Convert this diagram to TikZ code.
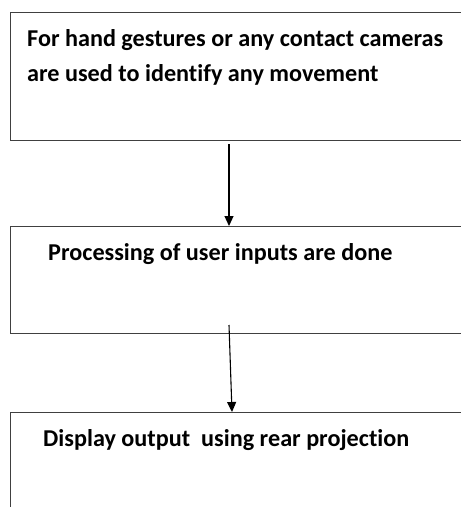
\documentclass[tikz,border=0pt]{standalone}
\usepackage{fontspec}
\setmainfont[Ligatures=NoCommon]{Carlito}
\usetikzlibrary{arrows.meta}
\begin{document}
\begin{tikzpicture}[x=1pt,y=-1pt,
  stage/.style={draw=black!75,line width=0.9pt,anchor=north west,inner sep=0pt},
  label/.style={anchor=base west,inner sep=0pt,font=\fontsize{24.2}{28}\selectfont\bfseries},
  flow/.style={draw=black,line width=1.1pt,-{Triangle[length=10pt,width=9pt]}}]
\useasboundingbox (0,0) rectangle (461,507);
% process boxes (they run past the right and bottom edges)
\node[stage,minimum width=470pt,minimum height=128pt] (b1) at (10,12) {};
\node[stage,minimum width=470pt,minimum height=107pt] (b2) at (10,226) {};
\node[stage,minimum width=470pt,minimum height=120pt] (b3) at (10,412) {};
% box captions
\node[label] (t1a) at (27,46) {For hand gestures or any contact cameras};
\node[label] (t1b) at (27,81) {are used to identify any movement};
\node[label] (t2) at (48,260) {Processing of user inputs are done};
\node[label] (t3) at (43,446) {Display output\ \ using rear projection};
% connectors
\coordinate (s1) at (229,144);
\coordinate (e1) at (229,226);
\coordinate (s2) at (229,325);
\coordinate (e2) at (232,412);
\draw[flow] (s1) -- (e1);
\draw[flow] (s2) -- (e2);
\end{tikzpicture}
\end{document}
